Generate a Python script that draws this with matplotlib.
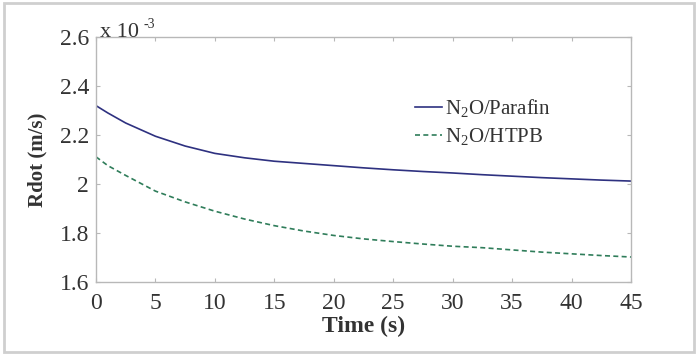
import matplotlib
matplotlib.use("Agg")
import matplotlib.pyplot as plt
from matplotlib.patches import Rectangle

# Burn rate curves (values in units of 1e-3 m/s)
time_s = [0, 1, 2.5, 5, 7.5, 10, 12.5, 15, 17.5, 20, 22.5, 25, 27.5, 30, 32.5, 35, 37.5, 40, 42.5, 45]
rdot_parafin = [2.320, 2.290, 2.249, 2.195, 2.155, 2.125, 2.107, 2.093, 2.084, 2.075,
                2.066, 2.058, 2.051, 2.045, 2.038, 2.032, 2.026, 2.021, 2.016, 2.012]
rdot_htpb = [2.111, 2.075, 2.035, 1.971, 1.927, 1.889, 1.857, 1.830, 1.808, 1.790,
             1.776, 1.765, 1.755, 1.746, 1.740, 1.731, 1.722, 1.715, 1.708, 1.702]

x_ticks = [0, 5, 10, 15, 20, 25, 30, 35, 40, 45]
y_ticks = [1.6, 1.8, 2.0, 2.2, 2.4, 2.6]
y_ticklabels = ["1.6", "1.8", "2", "2.2", "2.4", "2.6"]

plt.rcParams['font.family'] = ['Liberation Serif', 'DejaVu Serif']
plt.rcParams['mathtext.fontset'] = 'custom'
plt.rcParams['mathtext.rm'] = 'Liberation Serif'
plt.rcParams['mathtext.it'] = 'Liberation Serif:italic'

fig = plt.figure(figsize=(6.99, 3.54), dpi=100)
fig.patch.set_facecolor('white')

# light gray frame around the whole picture
fig.patches.append(Rectangle((0.006, 0.006), 0.987, 0.986, transform=fig.transFigure,
                             fill=False, edgecolor='#cfcfcf', linewidth=2))

ax = fig.add_axes([0.1373, 0.2034, 0.7654, 0.692])

ax.plot(time_s, rdot_parafin, color='#2e3180', linewidth=1.2, label='N$_2$O/Parafin')
ax.plot(time_s, rdot_htpb, color='#2f7d5a', linewidth=1.2, linestyle=(0, (3, 2)), label='N$_2$O/HTPB')

ax.set_xlim(0, 45)
ax.set_ylim(1.6, 2.6)
ax.set_xticks(x_ticks)
ax.set_yticks(y_ticks)
ax.set_yticklabels(y_ticklabels)

for s in ax.spines.values():
    s.set_color('#b8b8b8')
    s.set_linewidth(1.0)
ax.tick_params(direction='in', length=3, width=0.8, color='#b8b8b8',
               top=True, right=True, labelsize=17, labelcolor='#333333')
ax.tick_params(axis='x', pad=8)
ax.tick_params(axis='y', pad=5)

ax.set_xlabel('Time (s)', fontsize=17, fontweight='bold', color='#333333', labelpad=1)
ax.set_ylabel('Rdot (m/s)', fontsize=15, fontweight='bold', color='#333333', labelpad=9)

# exponent note, MATLAB style
fig.text(100 / 699, 1 - 37 / 354, 'x 10', fontsize=16, color='#333333', ha='left', va='baseline')
fig.text(144 / 699, 1 - 28 / 354, '-3', fontsize=10, color='#333333', ha='left', va='baseline')

leg = ax.legend(loc='upper left', bbox_to_anchor=(0.58, 0.79), frameon=False, fontsize=15,
                handlelength=1.3, handletextpad=0.15, labelspacing=0.35, borderaxespad=0)
for t in leg.get_texts():
    t.set_color('#333333')

fig.savefig('out.png', dpi=100, facecolor='white')
